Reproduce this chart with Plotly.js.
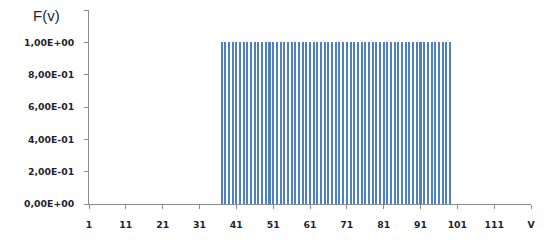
<!DOCTYPE html>
<html>
<head>
<meta charset="utf-8">
<script src="https://cdn.plot.ly/plotly-3.0.1.min.js"></script>
<style>html,body{margin:0;padding:0;background:#fff;}#chart{width:547px;height:250px;}</style>
</head>
<body>
<div id="chart"></div>
<script>
// Categories v (only those with non-zero F(v) are drawn as bars)
var vValues = [37,38,39,40,41,42,43,44,45,46,47,48,49,50,51,52,53,54,55,56,57,58,59,60,61,62,63,64,65,66,67,68,69,70,71,72,73,74,75,76,77,78,79,80,81,82,83,84,85,86,87,88,89,90,91,92,93,94,95,96,97,98,99];
var fValues = [1,1,1,1,1,1,1,1,1,1,1,1,1,1,1,1,1,1,1,1,1,1,1,1,1,1,1,1,1,1,1,1,1,1,1,1,1,1,1,1,1,1,1,1,1,1,1,1,1,1,1,1,1,1,1,1,1,1,1,1,1,1,1];
var xTickVals = [1,11,21,31,41,51,61,71,81,91,101,111,121];
var xTickText = ["1","11","21","31","41","51","61","71","81","91","101","111","V"];
var yTickVals = [0,0.2,0.4,0.6,0.8,1.0,1.2];
var yTickText = ["0,00E+00","2,00E-01","4,00E-01","6,00E-01","8,00E-01","1,00E+00",""];
var yTitle = "F(v)";

var trace = {
  type: 'bar',
  x: vValues,
  y: fValues,
  width: 0.55,
  marker: {color: '#4F81BD', line: {width: 0}},
  hoverinfo: 'none'
};

var axisFont = {family: 'DejaVu Sans, Verdana, sans-serif', size: 9.3, weight: 'bold', color: '#1f1f2f'};

var layout = {
  width: 547, height: 250,
  margin: {l: 89, r: 16, t: 10, b: 46},
  paper_bgcolor: '#ffffff', plot_bgcolor: '#ffffff',
  showlegend: false,
  bargap: 0,
  xaxis: {
    range: [1, 121],
    tickmode: 'array', tickvals: xTickVals, ticktext: xTickText,
    showgrid: false, zeroline: false,
    showline: true, linecolor: '#8c8c8c', linewidth: 1,
    ticks: 'outside', ticklen: 4, tickcolor: '#8c8c8c',
    ticklabelstandoff: 8,
    tickfont: axisFont,
    fixedrange: true
  },
  yaxis: {
    range: [0, 1.2],
    tickmode: 'array', tickvals: yTickVals, ticktext: yTickText,
    showgrid: false, zeroline: false,
    showline: true, linecolor: '#8c8c8c', linewidth: 1,
    ticks: 'outside', ticklen: 4, tickcolor: '#8c8c8c',
    ticklabelstandoff: 8,
    tickfont: axisFont,
    fixedrange: true
  },
  annotations: [{
    text: yTitle,
    xref: 'paper', yref: 'y',
    x: 0, y: 1.2,
    xanchor: 'right', yanchor: 'middle',
    xshift: -27, yshift: -5,
    showarrow: false,
    font: {family: 'Liberation Sans, Arial, sans-serif', size: 15, color: '#1f1f2f'}
  }]
};

Plotly.newPlot('chart', [trace], layout, {displayModeBar: false, staticPlot: true});
</script>
</body>
</html>
